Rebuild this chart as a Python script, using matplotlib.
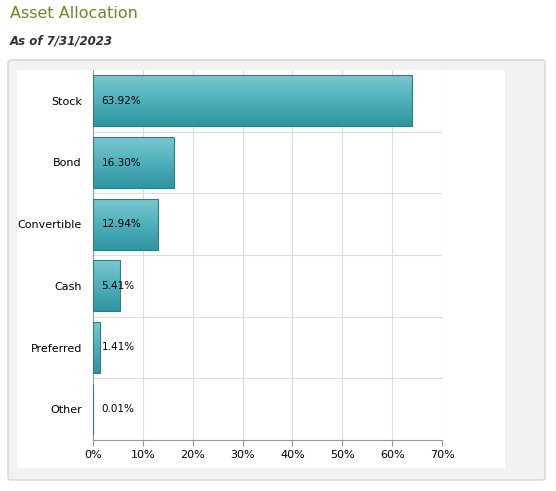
import numpy as np
import matplotlib.pyplot as plt
from matplotlib.patches import Rectangle, FancyBboxPatch
from matplotlib.colors import LinearSegmentedColormap

categories = ["Stock", "Bond", "Convertible", "Cash", "Preferred", "Other"]
values = [63.92, 16.30, 12.94, 5.41, 1.41, 0.01]
xticks = [0, 10, 20, 30, 40, 50, 60, 70]

W, H = 556, 491
fig = plt.figure(figsize=(W / 100, H / 100), dpi=100)

fig.text(10 / W, 1 - 13 / H, "Asset Allocation", color="#6b8a1e", fontsize=11.5, va="center")
fig.text(10 / W, 1 - 41 / H, "As of 7/31/2023", color="#333333", fontsize=8.5,
         fontweight="bold", fontstyle="italic", va="center")

# outer gray panel and inner white panel, behind the axes
fig.patches.append(FancyBboxPatch((8 / W, 1 - 480 / H), 537 / W, 420 / H,
                                  boxstyle="round,pad=0,rounding_size=0.005",
                                  transform=fig.transFigure, facecolor="#f2f2f2",
                                  edgecolor="#d6d6d6", linewidth=1, zorder=-2))
fig.patches.append(Rectangle((17 / W, 1 - 468 / H), 488 / W, 398 / H,
                             transform=fig.transFigure, facecolor="white",
                             edgecolor="none", zorder=-1))

ax = fig.add_axes([93 / W, 1 - 440 / H, 349 / W, 370 / H])
ax.set_facecolor("none")
n = len(categories)

for x in xticks[1:]:
    ax.axvline(x, color="#dddddd", linewidth=0.8, zorder=0)
for y in range(1, n):
    ax.axhline(y, color="#dddddd", linewidth=0.8, zorder=0)

cmap = LinearSegmentedColormap.from_list("teal", ["#7cc8d0", "#4fb0bb", "#2f95a1"])
for i, v in enumerate(values):
    y0 = i + 0.5 - 0.415
    rect = Rectangle((0, y0), v, 0.83, facecolor="none", edgecolor="#2b7d86",
                     linewidth=0.8, zorder=3)
    ax.add_patch(rect)
    im = ax.imshow(np.linspace(0, 1, 50).reshape(-1, 1), cmap=cmap, aspect="auto",
                   extent=(0, v, y0 + 0.83, y0), zorder=2)
    im.set_clip_path(rect)
    ax.annotate(f"{v:.2f}%", (0, i + 0.5), xytext=(6, 0), textcoords="offset points",
                va="center", ha="left", fontsize=7.5, color="black", zorder=4)

ax.set_xlim(0, 70)
ax.set_ylim(n, 0)
ax.set_yticks([i + 0.5 for i in range(n)])
ax.set_yticklabels(categories, fontsize=8)
ax.set_xticks(xticks)
ax.set_xticklabels([f"{x}%" for x in xticks], fontsize=8)
ax.tick_params(axis="y", length=0, pad=8)
ax.tick_params(axis="x", length=4, color="#999999")
for s in ["top", "right"]:
    ax.spines[s].set_visible(False)
ax.spines["left"].set_color("#999999")
ax.spines["bottom"].set_color("#999999")

fig.savefig("out.png", dpi=100)
